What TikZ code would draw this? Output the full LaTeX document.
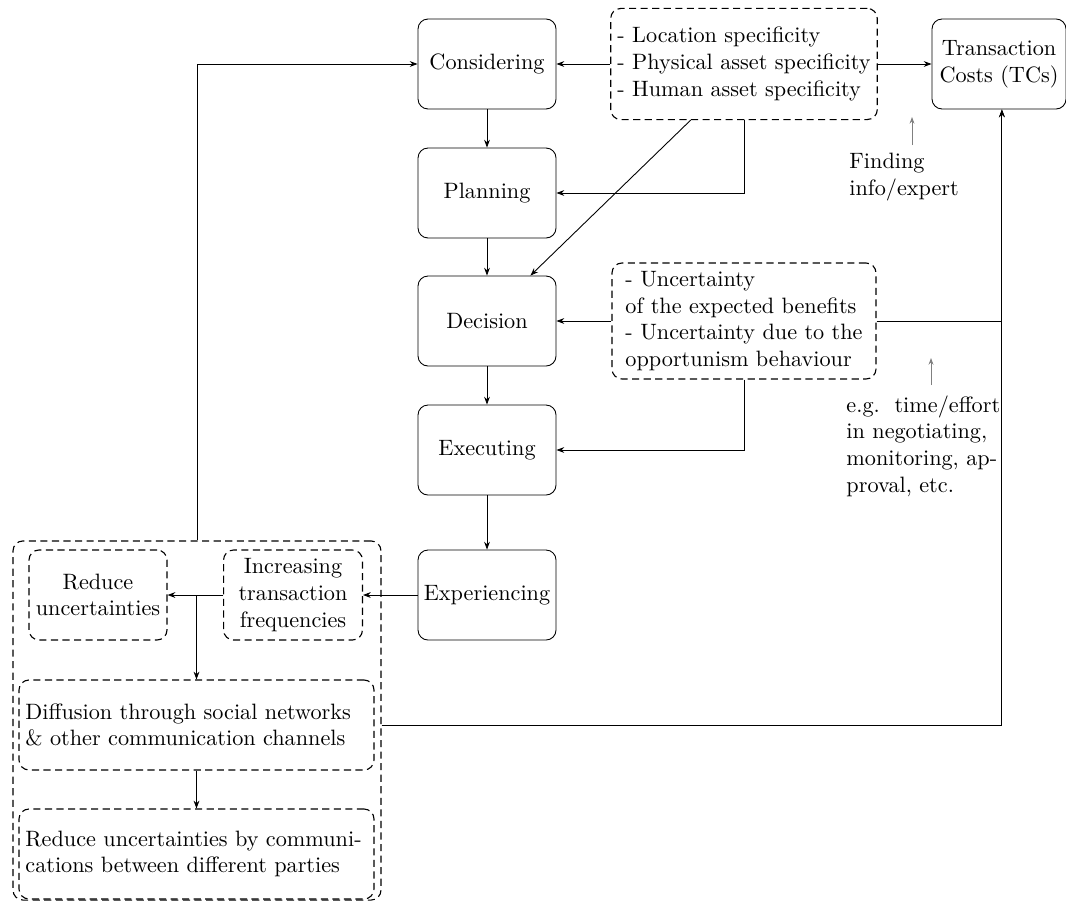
\documentclass[tikz,border=0pt]{standalone}
\usetikzlibrary{arrows.meta}
\begin{document}
\begin{tikzpicture}[x=0.45pt,y=-0.45pt,
  box/.style={draw, rounded corners=4.5pt, minimum width=62.1pt, minimum height=40.5pt, align=center, inner sep=2pt},
  dbox/.style={box, line width=0.5pt, dash pattern=on 3.2pt off 2pt},
  arr/.style={-{Stealth[length=3.5pt,width=2.6pt]}},
  garr/.style={gray, -{Stealth[length=3pt,width=2.2pt]}},
  lbl/.style={align=left, inner sep=0pt}]
\useasboundingbox (0,0) rectangle (1066,902);
% main chain
\node[box] (cons) at (487,64) {Considering};
\node[box] (plan) at (487,193) {Planning};
\node[box] (dec) at (487,321) {Decision};
\node[box] (exe) at (487,450) {Executing};
\node[box] (expn) at (487,595) {Experiencing};
% right
\node[dbox, minimum width=118.8pt, minimum height=50pt, align=left, inner xsep=3pt] (spec) at (744,64)
  {- Location specificity\\- Physical asset specificity\\- Human asset specificity};
\node[box, minimum width=60.3pt] (tc) at (999,64) {Transaction\\Costs (TCs)};
\node[dbox, minimum width=118.8pt, minimum height=52.2pt, align=left, inner xsep=4pt] (unc) at (744,321)
  {- Uncertainty\\of the expected benefits\\- Uncertainty due to the\\opportunism behaviour};
\node[lbl, anchor=north west] (find) at (849,153) {Finding\\info/expert};
\node[lbl, anchor=north west] (eg) at (846,395) {e.g.\ \ time/effort\\in negotiating,\\monitoring, ap-\\proval, etc.};
\coordinate (f0) at (912,145);
\coordinate (f1) at (912,117);
\coordinate (e0) at (931,385);
\coordinate (e1) at (931,358);
% lower left group
\node[dbox, minimum width=165.6pt, minimum height=161.6pt] (outer) at (197,720.5) {};
\node[dbox] (red) at (98,595) {Reduce\\uncertainties};
\node[dbox, minimum width=62.5pt] (inc) at (293,595) {Increasing\\transaction\\frequencies};
\node[dbox, minimum width=159.75pt, text width=154pt, align=left] (diff) at (196.5,725)
  {Diffusion through social networks\\\& other communication channels};
\node[dbox, minimum width=159.75pt, text width=154pt, align=left] (rcom) at (196.5,854)
  {Reduce uncertainties by communi-\\cations between different parties};
% connectors
\draw[arr] (cons) -- (plan);
\draw[arr] (plan) -- (dec);
\draw[arr] (dec) -- (exe);
\draw[arr] (exe) -- (expn);
\draw[arr] (spec.west) -- (cons.east);
\draw[arr] (spec.east) -- (tc.west);
\draw[arr] (spec.south) |- (plan.east);
\draw[arr] ([xshift=-24pt]spec.south) -- ([xshift=-11.7pt]dec.north east);
\draw[arr] (unc.west) -- (dec.east);
\draw[arr] (unc.south) |- (exe.east);
\draw[arr] (unc.east) -| ([xshift=1.3pt]tc.south);
\draw[arr] (diff.east -| outer.east) -| ([xshift=1.3pt]tc.south);
\draw[garr] (f0) -- (f1);
\draw[garr] (e0) -- (e1);
\draw[arr] (expn.west) -- (inc.east);
\draw[arr] (inc.west) -- (red.east);
\draw[arr] (diff.north |- inc.west) -- (diff.north);
\draw[arr] (diff) -- (rcom);
\draw[arr] (outer.north) |- (cons.west);
\end{tikzpicture}
\end{document}
